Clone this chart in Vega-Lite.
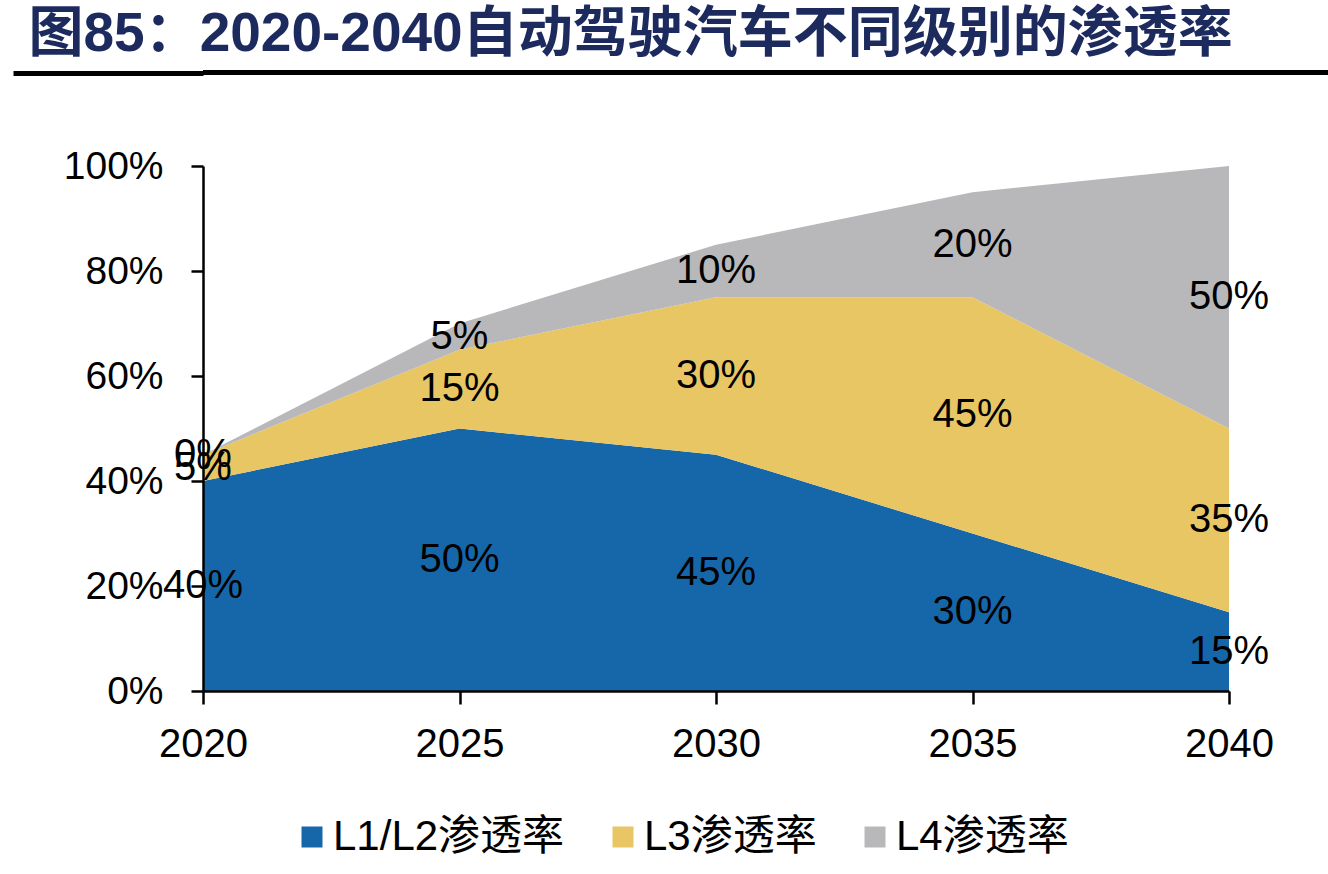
{
  "$schema": "https://vega.github.io/schema/vega-lite/v6.json",
  "background": "white",
  "padding": {"left": 10, "top": 7, "right": 0, "bottom": 0},
  "title": {
    "text": "图85：2020-2040自动驾驶汽车不同级别的渗透率",
    "anchor": "start",
    "font": "Liberation Sans, Noto Sans CJK SC",
    "fontSize": 55,
    "fontWeight": "bold",
    "color": "#1C2A5E",
    "dx": 18,
    "offset": 7
  },
  "datasets": {
    "pen": [
      {"year": 2020, "series": "L1/L2渗透率", "k": 1, "value": 40},
      {"year": 2025, "series": "L1/L2渗透率", "k": 1, "value": 50},
      {"year": 2030, "series": "L1/L2渗透率", "k": 1, "value": 45},
      {"year": 2035, "series": "L1/L2渗透率", "k": 1, "value": 30},
      {"year": 2040, "series": "L1/L2渗透率", "k": 1, "value": 15},
      {"year": 2020, "series": "L3渗透率", "k": 2, "value": 5},
      {"year": 2025, "series": "L3渗透率", "k": 2, "value": 15},
      {"year": 2030, "series": "L3渗透率", "k": 2, "value": 30},
      {"year": 2035, "series": "L3渗透率", "k": 2, "value": 45},
      {"year": 2040, "series": "L3渗透率", "k": 2, "value": 35},
      {"year": 2020, "series": "L4渗透率", "k": 3, "value": 0},
      {"year": 2025, "series": "L4渗透率", "k": 3, "value": 5},
      {"year": 2030, "series": "L4渗透率", "k": 3, "value": 10},
      {"year": 2035, "series": "L4渗透率", "k": 3, "value": 20},
      {"year": 2040, "series": "L4渗透率", "k": 3, "value": 50}
    ]
  },
  "concat": [
    {
      "width": 1125,
      "height": 5,
      "view": {"fill": "black", "stroke": null},
      "data": {"values": [{"a": 0.5}]},
      "mark": {"type": "rule", "opacity": 0},
      "encoding": {
        "y": {
          "field": "a",
          "type": "quantitative",
          "scale": {"domain": [0, 1], "nice": false},
          "axis": {
            "values": [0.5],
            "title": null,
            "labels": false,
            "domain": false,
            "grid": false,
            "ticks": true,
            "tickSize": 190,
            "tickWidth": 5,
            "tickColor": "black"
          }
        }
      }
    },
    {
      "width": 1026,
      "height": 525,
      "data": {"name": "pen"},
      "layer": [
        {
          "mark": {"type": "area", "opacity": 1},
          "encoding": {
            "x": {
              "field": "year",
              "type": "quantitative",
              "scale": {"domain": [2020, 2040], "nice": false, "zero": false},
              "axis": {
                "values": [2020, 2025, 2030, 2035, 2040],
                "format": "d",
                "title": null,
                "grid": false,
                "domainColor": "black",
                "domainWidth": 2.5,
                "tickColor": "black",
                "tickWidth": 2.5,
                "tickSize": 13,
                "labelFontSize": 40,
                "labelFont": "Liberation Sans",
                "labelColor": "black",
                "labelPadding": 20,
                "labelFlush": false,
                "zindex": 1
              }
            },
            "y": {
              "field": "value",
              "type": "quantitative",
              "stack": "zero",
              "scale": {"domain": [0, 100], "nice": false},
              "axis": {
                "values": [0, 20, 40, 60, 80, 100],
                "labelExpr": "datum.value + '%'",
                "title": null,
                "grid": false,
                "domainColor": "black",
                "domainWidth": 2.5,
                "tickColor": "black",
                "tickWidth": 2.5,
                "tickSize": 12,
                "labelFontSize": 39,
                "labelFont": "Liberation Sans",
                "labelColor": "black",
                "labelPadding": 28,
                "zindex": 1
              }
            },
            "color": {
              "field": "series",
              "type": "nominal",
              "scale": {
                "domain": ["L1/L2渗透率", "L3渗透率", "L4渗透率"],
                "range": ["#1667AA", "#E8C664", "#B8B8BA"]
              },
              "legend": {
                "orient": "none",
                "legendX": 88,
                "legendY": 746,
                "direction": "horizontal",
                "title": null,
                "symbolType": "square",
                "symbolSize": 441,
                "symbolStrokeWidth": 0,
                "symbolOpacity": 1,
                "labelFontSize": 42,
                "labelFont": "Liberation Sans, Noto Sans CJK SC",
                "labelColor": "black",
                "labelOffset": 0,
                "columnPadding": 37,
                "labelLimit": 400
              }
            },
            "order": {"field": "k", "type": "quantitative"}
          }
        },
        {
          "transform": [
            {"stack": "value", "groupby": ["year"], "sort": [{"field": "k", "order": "ascending"}], "as": ["v0", "v1"]},
            {"calculate": "(datum.v0 + datum.v1) / 2", "as": "mid"},
            {"calculate": "datum.value + '%'", "as": "label"}
          ],
          "mark": {"type": "text", "fontSize": 40, "font": "Liberation Sans", "color": "black", "align": "center", "baseline": "middle"},
          "encoding": {
            "x": {"field": "year", "type": "quantitative"},
            "y": {"field": "mid", "type": "quantitative"},
            "text": {"field": "label"}
          }
        }
      ]
    }
  ],
  "columns": 1,
  "align": "none",
  "bounds": "full",
  "spacing": 71,
  "resolve": {"scale": {"y": "independent"}},
  "config": {"view": {"stroke": null}}
}
